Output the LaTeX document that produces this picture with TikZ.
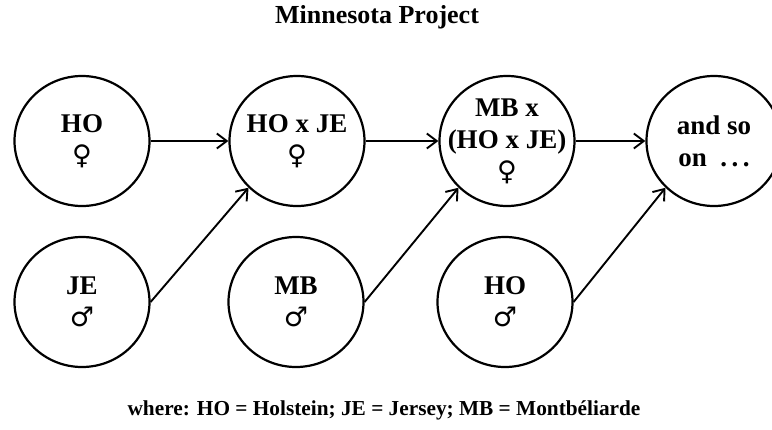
\documentclass[tikz,border=0pt]{standalone}
\usepackage{fontspec}
\setmainfont{Liberation Serif}
\newfontfamily\sexfont{DejaVu Sans}
\usetikzlibrary{shapes.geometric, arrows.meta}
\tikzstyle{breed}=[ellipse, draw, line width=2.2pt, minimum width=135pt, minimum height=130pt, inner sep=0pt]
\tikzstyle{breedtext}=[align=center, font=\fontsize{27}{32}\selectfont\bfseries]
\tikzstyle{cross}=[line width=1.9pt, -{Straight Barb[length=10pt, width=15pt]}]
\newcommand{\fem}{{\sexfont\bfseries\fontsize{27}{32}\selectfont\char"2640}}
\newcommand{\mal}{{\sexfont\bfseries\fontsize{27}{32}\selectfont\char"2642}}

\begin{document}
\begin{tikzpicture}[x=1pt, y=-1pt]
    \useasboundingbox (0, 0) rectangle (772, 429);
    \node[font=\fontsize{26}{30}\selectfont\bfseries] (title) at (377, 17) {Minnesota Project};
    % dams
    \node[breed, label={[breedtext]center:{HO\\\fem}}] (hof) at (82, 141) {};
    \node[breed, label={[breedtext]center:{HO x JE\\\fem}}] (hoje) at (297, 141) {};
    \node[breed, label={[breedtext]center:{MB x\\(HO x JE)\\\fem}}] (mbx) at (507, 141) {};
    \node[breed, label={[breedtext]center:{and so\\on \ .\,.\,.}}] (more) at (714, 141) {};
    % sires
    \node[breed, label={[breedtext]center:{JE\\\mal}}] (jem) at (82, 302) {};
    \node[breed, label={[breedtext]center:{MB\\\mal}}] (mbm) at (296, 302) {};
    \node[breed, label={[breedtext]center:{HO\\\mal}}] (hom) at (505, 302) {};
    \foreach \from/\to in {hof/hoje, hoje/mbx, mbx/more}
        \draw[cross] (\from) -- (\to);
    \foreach \from/\to in {jem/hoje, mbm/mbx, hom/more}
        \draw[cross] (\from.east) -- (\to.south west);
    \node[font=\fontsize{21.3}{26}\selectfont\bfseries] (key) at (384, 410) {where: HO = Holstein; JE = Jersey; MB = Montbéliarde};
\end{tikzpicture}
\end{document}
